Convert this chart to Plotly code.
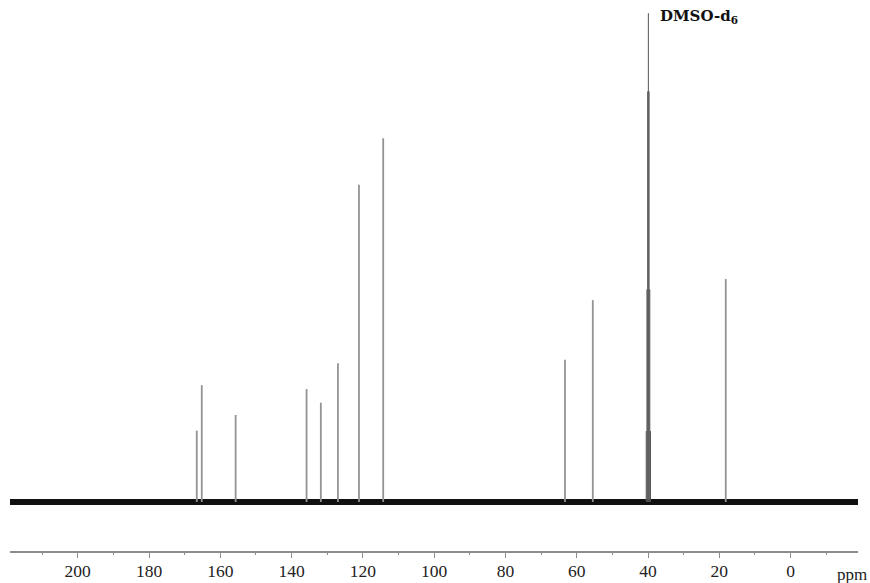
import plotly.graph_objects as go

# Peak positions (ppm) and heights (relative, DMSO = 100)
peak_ppm = [166.6, 165.2, 155.7, 135.8, 131.8, 127.0, 121.1, 114.3, 63.3, 55.5, 18.2]
peak_height = [14.6, 23.9, 17.8, 23.1, 20.3, 28.4, 64.9, 74.4, 29.1, 41.3, 45.6]

# DMSO-d6 septet lines (ppm) and heights
dmso_ppm = [39.31, 39.51, 39.71, 39.91, 40.11, 40.31, 40.51]
dmso_height = [14.5, 43.5, 84.0, 100.0, 84.0, 43.5, 14.5]

# Baseline extent (ppm)
baseline_ppm = [219.0, -18.9]
baseline_val = [0.0, 0.0]

tick_vals = [200, 180, 160, 140, 120, 100, 80, 60, 40, 20, 0]
tick_text = [str(v) for v in tick_vals]
minor_vals = [210, 190, 170, 150, 130, 110, 90, 70, 50, 30, 10, -10]

def sticks(xs, hs):
    X, Y = [], []
    for x, h in zip(xs, hs):
        X += [x, x, None]
        Y += [0, h, None]
    return X, Y

fig = go.Figure()

fig.add_trace(go.Scatter(x=baseline_ppm, y=baseline_val, mode="lines",
                         line=dict(color="#111111", width=6), hoverinfo="skip"))

px, py = sticks(peak_ppm, peak_height)
fig.add_trace(go.Scatter(x=px, y=py, mode="lines",
                         line=dict(color="#939393", width=1.8), hoverinfo="skip"))

dx, dy = sticks(dmso_ppm, dmso_height)
fig.add_trace(go.Scatter(x=dx, y=dy, mode="lines",
                         line=dict(color="#555555", width=1.0), hoverinfo="skip"))

fig.update_layout(
    width=870, height=583,
    margin=dict(l=10, r=12, t=0, b=32),
    paper_bgcolor="white", plot_bgcolor="white",
    showlegend=False,
    xaxis=dict(range=[219.0, -18.9], showgrid=False, zeroline=False,
               showline=True, linecolor="#8c8c8c", linewidth=1.5,
               tickmode="array", tickvals=tick_vals, ticktext=tick_text,
               ticks="outside", ticklen=5, tickwidth=1, tickcolor="#8c8c8c",
               ticklabelstandoff=-2,
               minor=dict(tickmode="array", tickvals=minor_vals,
                          ticks="outside", ticklen=2, tickcolor="#8c8c8c"),
               tickfont=dict(family="Liberation Serif", size=17.5, color="#222222")),
    yaxis=dict(range=[-10.03, 102.7], visible=False, showgrid=False, zeroline=False),
)

fig.add_annotation(x=1.013, y=-0.022, xref="paper", yref="paper", text="ppm",
                   showarrow=False, xanchor="right", yanchor="top",
                   font=dict(family="Liberation Serif", size=17, color="#222222"))
fig.add_annotation(x=37.3, y=101.7, xref="x", yref="y",
                   text="<b>DMSO-d<sub>6</sub></b>", showarrow=False,
                   xanchor="left", yanchor="top",
                   font=dict(family="DejaVu Serif", size=15, color="#111111"))

fig.write_html("out.html", config={"displayModeBar": False},
               post_script="document.body.style.margin='0';document.body.style.overflow='hidden';")
